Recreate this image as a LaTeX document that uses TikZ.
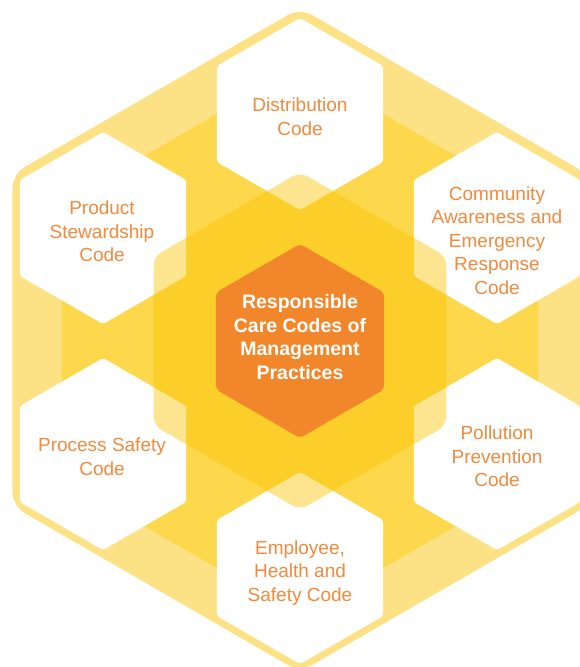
\documentclass[tikz,border=0pt]{standalone}
\usepackage{fontspec}
\setmainfont{Liberation Sans}
\definecolor{lightyellow}{HTML}{FDE285}
\definecolor{midyellow}{HTML}{FDD84C}
\definecolor{deepyellow}{HTML}{FCC300}
\definecolor{codeorange}{HTML}{F18A3D}
\definecolor{centreorange}{HTML}{F2862A}
\tikzset{
  codetext/.style={text=codeorange, align=center, inner sep=0pt,
    font=\fontsize{19}{23.5}\selectfont},
  maintext/.style={text=white, align=center, inner sep=0pt,
    font=\fontsize{19.5}{23.5}\selectfont\bfseries}
}
% pointy-top hexagon: style, centre, radius
\newcommand{\hexcell}[3]{%
  \fill[#1] (#2) ++(90:#3) -- ++(210:#3) -- ++(270:#3) -- ++(330:#3)
    -- ++(30:#3) -- ++(90:#3) -- cycle;}
\begin{document}
\begin{tikzpicture}[x=1pt, y=-1pt]
    \useasboundingbox (0,0) rectangle (580,667);
    \coordinate (centre) at (300,341);
    \foreach \name/\cx/\cy in {dist/300/114, prod/103/228, comm/497/228,
                              proc/103/454, poll/497/454, empl/300/568} {
        \coordinate (\name) at (\cx,\cy);
    }
    % background layers
    \hexcell{lightyellow, rounded corners=14pt}{300,340}{332}
    \hexcell{midyellow, rounded corners=8pt}{centre}{275}
    \foreach \name in {dist, prod, comm, proc, poll, empl} {
        \hexcell{white, rounded corners=3pt}{\name}{96}
    }
    \hexcell{deepyellow, fill opacity=0.44, rounded corners=9pt}{centre}{169}
    \hexcell{centreorange, rounded corners=4pt}{centre}{97}
    % labels
    \node[maintext] (centretext) at (300,337)
        {Responsible\\Care Codes of\\Management\\Practices};
    \node[codetext] (disttext) at (300,116.5) {Distribution\\Code};
    \node[codetext] (prodtext) at (102,231.5) {Product\\Stewardship\\Code};
    \node[codetext] (commtext) at (497,240.5)
        {Community\\Awareness and\\Emergency\\Response\\Code};
    \node[codetext] (proctext) at (102,456.5) {Process Safety\\Code};
    \node[codetext] (polltext) at (497,456.5) {Pollution\\Prevention\\Code};
    \node[codetext] (empltext) at (300,573) {Employee,\\Health and\\Safety Code};
\end{tikzpicture}
\end{document}
